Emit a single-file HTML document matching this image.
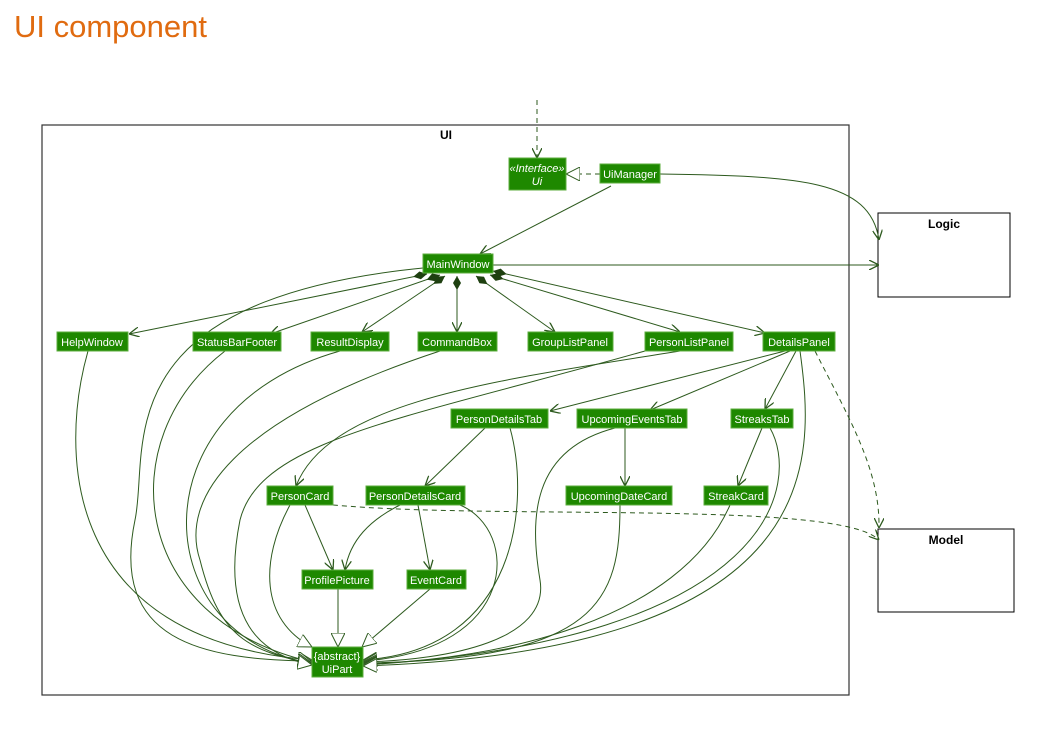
<!DOCTYPE html>
<html><head><meta charset="utf-8"><style>
body{margin:0;background:#fff;width:1057px;height:750px;overflow:hidden;font-family:"Liberation Sans",sans-serif}
h1{position:absolute;left:14px;top:9px;margin:0;font-weight:normal;font-size:31px;color:#e06b10;font-family:"Liberation Sans",sans-serif}
svg{position:absolute;left:0;top:0}
.n{fill:#1e8800;stroke:#5cae3e;stroke-width:1}
.t{fill:#fff;font-size:11px;text-anchor:middle;font-family:"Liberation Sans",sans-serif}
.e{fill:none;stroke:#2d5a1e;stroke-width:1}
</style></head><body>
<h1>UI component</h1>
<svg width="1057" height="750" viewBox="0 0 1057 750">
<defs>
<marker id="a" viewBox="0 0 10 10" refX="10" refY="5" markerWidth="10" markerHeight="10" orient="auto" markerUnits="userSpaceOnUse"><path d="M0,0 L10,5 L0,10" fill="none" stroke="#2d5a1e" stroke-width="1.3"/></marker>
<marker id="g" viewBox="0 0 14 14" refX="14" refY="7" markerWidth="14" markerHeight="14" orient="auto" markerUnits="userSpaceOnUse"><path d="M0,0 L14,7 L0,14 Z" fill="#fff" stroke="#2d5a1e" stroke-width="1"/></marker>
<marker id="d" viewBox="0 0 14 8" refX="0" refY="4" markerWidth="14" markerHeight="8" orient="auto" markerUnits="userSpaceOnUse"><path d="M0,4 L7,0 L14,4 L7,8 Z" fill="#1e4010"/></marker>
</defs>
<rect x="42" y="125" width="807" height="570" fill="none" stroke="#333" stroke-width="1.2"/>
<text x="446" y="139" font-size="12" font-weight="bold" text-anchor="middle">UI</text>
<rect x="878" y="213" width="132" height="84" fill="#fff" stroke="#000"/>
<text x="944" y="228" font-size="12" font-weight="bold" text-anchor="middle">Logic</text>
<rect x="878" y="529" width="136" height="83" fill="#fff" stroke="#000"/>
<text x="946" y="544" font-size="12" font-weight="bold" text-anchor="middle">Model</text>

<!-- edges -->
<path class="e" d="M537,100 L537,158" stroke-dasharray="5,4" marker-end="url(#a)"/>
<path class="e" d="M600,174 L566,174" stroke-dasharray="5,4" marker-end="url(#g)"/>
<path class="e" d="M660,174 C800,176 870,180 879,240" marker-end="url(#a)"/>
<path class="e" d="M611,186 L480,254" marker-end="url(#a)"/>
<path class="e" d="M493,265 L879,265" marker-end="url(#a)"/>
<path class="e" d="M427,274 L129,334" marker-start="url(#d)" marker-end="url(#a)"/>
<path class="e" d="M440,275 L270,334" marker-start="url(#d)" marker-end="url(#a)"/>
<path class="e" d="M445,276 L362,332" marker-start="url(#d)" marker-end="url(#a)"/>
<path class="e" d="M457,276 L457,332" marker-start="url(#d)" marker-end="url(#a)"/>
<path class="e" d="M476,276 L555,332" marker-start="url(#d)" marker-end="url(#a)"/>
<path class="e" d="M490,275 L680,332" marker-start="url(#d)" marker-end="url(#a)"/>
<path class="e" d="M493,271 L765,333" marker-start="url(#d)" marker-end="url(#a)"/>
<path class="e" d="M785,351 L550,411" marker-end="url(#a)"/>
<path class="e" d="M790,351 L650,410" marker-end="url(#a)"/>
<path class="e" d="M796,351 L765,409" marker-end="url(#a)"/>
<path class="e" d="M815,351 C850,420 880,470 879,528" stroke-dasharray="5,4" marker-end="url(#a)"/>
<path class="e" d="M333,505 C500,520 840,500 879,540" stroke-dasharray="5,4" marker-end="url(#a)"/>
<path class="e" d="M680,351 C500,380 330,400 296,486" marker-end="url(#a)"/>
<path class="e" d="M485,428 L425,486" marker-end="url(#a)"/>
<path class="e" d="M625,428 L625,486" marker-end="url(#a)"/>
<path class="e" d="M762,428 L738,486" marker-end="url(#a)"/>
<path class="e" d="M305,505 L333,570" marker-end="url(#a)"/>
<path class="e" d="M400,505 C370,520 350,540 345,570" marker-end="url(#a)"/>
<path class="e" d="M418,505 L430,570" marker-end="url(#a)"/>
<path class="e" d="M338,589 L338,647" marker-end="url(#g)"/>
<path class="e" d="M430,589 L362,647" marker-end="url(#g)"/>
<path class="e" d="M290,505 C260,560 260,620 312,647" marker-end="url(#g)"/>
<!-- to UiPart from left -->
<path class="e" d="M88,351 C60,450 60,640 312,660" marker-end="url(#g)"/>
<path class="e" d="M423,268 C100,300 150,450 135,520 C110,640 200,660 312,661" marker-end="url(#g)"/>
<path class="e" d="M225,351 C110,440 130,620 312,662" marker-end="url(#g)"/>
<path class="e" d="M340,351 C130,410 150,640 312,663" marker-end="url(#g)"/>
<path class="e" d="M440,351 C230,420 180,500 200,560 C220,640 250,650 312,664" marker-end="url(#g)"/>
<path class="e" d="M645,351 C400,420 260,440 240,520 C220,620 260,655 312,665" marker-end="url(#g)"/>
<!-- to UiPart from right -->
<path class="e" d="M510,428 C530,500 520,650 363,660" marker-end="url(#g)"/>
<path class="e" d="M460,505 C520,530 520,650 363,661" marker-end="url(#g)"/>
<path class="e" d="M615,428 C530,450 530,520 540,580 C550,640 450,660 363,662" marker-end="url(#g)"/>
<path class="e" d="M620,505 C620,600 600,660 363,663" marker-end="url(#g)"/>
<path class="e" d="M730,505 C680,620 500,660 363,664" marker-end="url(#g)"/>
<path class="e" d="M770,428 C800,480 780,640 363,665" marker-end="url(#g)"/>
<path class="e" d="M800,351 C815,460 830,650 363,666" marker-end="url(#g)"/>

<!-- nodes -->
<rect class="n" x="509" y="158" width="57" height="32"/><text class="t" x="537" y="172" font-style="italic">«Interface»</text><text class="t" x="537" y="185" font-style="italic">Ui</text>
<rect class="n" x="600" y="164" width="60" height="19"/><text class="t" x="630" y="178">UiManager</text>
<rect class="n" x="423" y="254" width="70" height="19"/><text class="t" x="458" y="268">MainWindow</text>
<rect class="n" x="57" y="332" width="71" height="19"/><text class="t" x="92" y="346">HelpWindow</text>
<rect class="n" x="193" y="332" width="88" height="19"/><text class="t" x="237" y="346">StatusBarFooter</text>
<rect class="n" x="311" y="332" width="78" height="19"/><text class="t" x="350" y="346">ResultDisplay</text>
<rect class="n" x="418" y="332" width="79" height="19"/><text class="t" x="457" y="346">CommandBox</text>
<rect class="n" x="528" y="332" width="85" height="19"/><text class="t" x="570" y="346">GroupListPanel</text>
<rect class="n" x="645" y="332" width="88" height="19"/><text class="t" x="689" y="346">PersonListPanel</text>
<rect class="n" x="763" y="332" width="72" height="19"/><text class="t" x="799" y="346">DetailsPanel</text>
<rect class="n" x="451" y="409" width="97" height="19"/><text class="t" x="499" y="423">PersonDetailsTab</text>
<rect class="n" x="577" y="409" width="110" height="19"/><text class="t" x="632" y="423">UpcomingEventsTab</text>
<rect class="n" x="731" y="409" width="62" height="19"/><text class="t" x="762" y="423">StreaksTab</text>
<rect class="n" x="267" y="486" width="66" height="19"/><text class="t" x="300" y="500">PersonCard</text>
<rect class="n" x="366" y="486" width="99" height="19"/><text class="t" x="415" y="500">PersonDetailsCard</text>
<rect class="n" x="566" y="486" width="106" height="19"/><text class="t" x="619" y="500">UpcomingDateCard</text>
<rect class="n" x="704" y="486" width="64" height="19"/><text class="t" x="736" y="500">StreakCard</text>
<rect class="n" x="302" y="570" width="71" height="19"/><text class="t" x="337" y="584">ProfilePicture</text>
<rect class="n" x="407" y="570" width="59" height="19"/><text class="t" x="436" y="584">EventCard</text>
<rect class="n" x="312" y="647" width="51" height="30"/><text class="t" x="337" y="660">{abstract}</text><text class="t" x="337" y="673">UiPart</text>
</svg>
</body></html>
